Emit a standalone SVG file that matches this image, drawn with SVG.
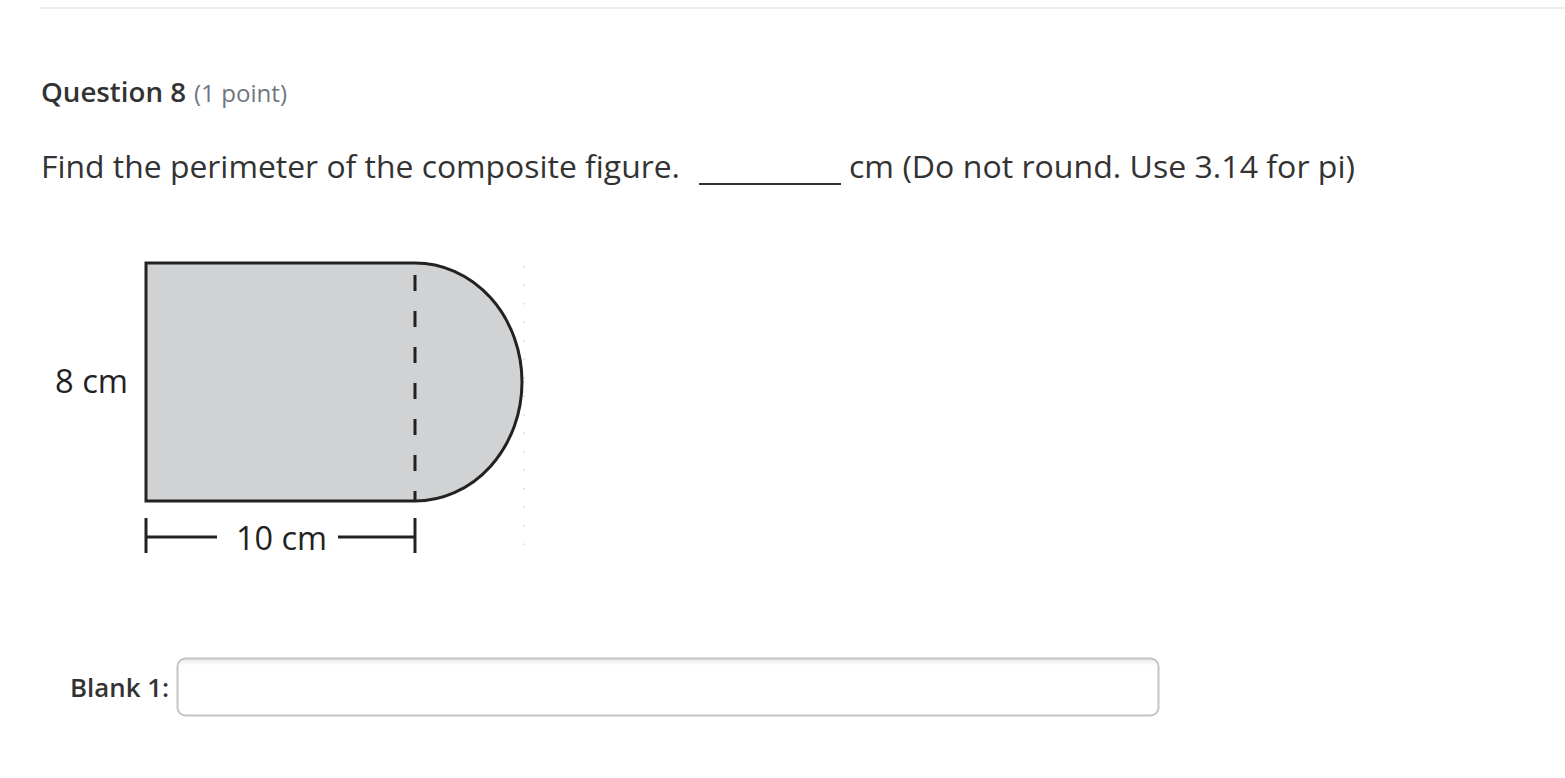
<svg xmlns="http://www.w3.org/2000/svg" width="1565" height="778" viewBox="0 0 1565 778">
<style>
.t{font-family:"Open Sans","Noto Sans",sans-serif;fill:#333333}
.fig{font-family:"Open Sans","Liberation Sans",sans-serif;fill:#222222;font-size:32px}
.ln{stroke:#222222;stroke-width:3;fill:none}
</style>
<defs>
<linearGradient id="sh" x1="0" y1="0" x2="0" y2="1">
<stop offset="0" stop-color="#e6e6e6"/>
<stop offset="0.12" stop-color="#ffffff"/>
</linearGradient>
</defs>
<rect width="1565" height="778" fill="#ffffff"/>
<line x1="40" y1="8" x2="1565" y2="8" stroke="#ececec" stroke-width="2"/>
<g id="header">
<text class="t" x="41" y="102" font-size="27" font-weight="600" textLength="145" lengthAdjust="spacingAndGlyphs">Question 8</text>
<text class="t" x="194" y="102" font-size="23" fill="#6f7780" style="fill:#6f7780" textLength="93" lengthAdjust="spacingAndGlyphs">(1 point)</text>
</g>
<g id="question">
<text class="t" x="41" y="178" font-size="31" textLength="639" lengthAdjust="spacingAndGlyphs">Find the perimeter of the composite figure.</text>
<line x1="699" y1="184" x2="841" y2="184" stroke="#333333" stroke-width="2"/>
<text class="t" x="849" y="178" font-size="31" textLength="506" lengthAdjust="spacingAndGlyphs">cm (Do not round. Use 3.14 for pi)</text>
</g>
<g id="figure">
<line x1="524" y1="266" x2="524" y2="556" stroke="#d8d8d8" stroke-width="1.5" stroke-dasharray="1.5 17"/>
<path d="M146 263 H415 A107 119 0 0 1 415 501 H146 Z" style="fill:#d1d2d4;stroke:#222222;stroke-width:3"/>
<line x1="415" y1="265" x2="415" y2="500" stroke="#222222" stroke-width="3" stroke-dasharray="16 20" stroke-dashoffset="-10"/>
<text class="fig" x="55" y="393" textLength="73" lengthAdjust="spacingAndGlyphs">8 cm</text>
<line class="ln" x1="146" y1="518" x2="146" y2="553"/>
<line class="ln" x1="415" y1="518" x2="415" y2="553"/>
<line class="ln" x1="146" y1="537" x2="217" y2="537"/>
<line class="ln" x1="338" y1="537" x2="415" y2="537"/>
<text class="fig" x="236" y="550" textLength="91" lengthAdjust="spacingAndGlyphs">10 cm</text>
</g>
<g id="blank">
<text class="t" x="70" y="697" font-size="25" font-weight="600" textLength="99" lengthAdjust="spacingAndGlyphs">Blank 1:</text>
<rect x="177.5" y="658.5" width="981" height="57" rx="8" fill="url(#sh)" stroke="#c4c4c4" stroke-width="2"/>
</g>
</svg>
